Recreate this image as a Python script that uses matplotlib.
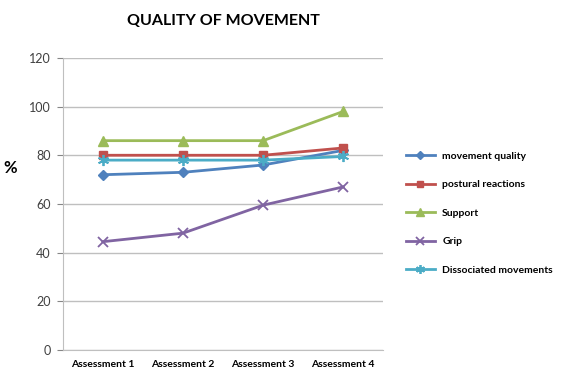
import matplotlib
matplotlib.use("Agg")
import matplotlib.pyplot as plt

categories = ["Assessment 1", "Assessment 2", "Assessment 3", "Assessment 4"]
movement_quality = [72, 73, 76, 82]
postural_reactions = [80, 80, 80, 83]
support = [86, 86, 86, 98]
grip = [44.5, 48, 59.5, 67]
dissociated = [78, 78, 78, 79.5]

series = [
    ("movement quality", movement_quality, "#4F81BD", "D", 5),
    ("postural reactions", postural_reactions, "#C0504D", "s", 6),
    ("Support", support, "#9BBB59", "^", 7),
    ("Grip", grip, "#8064A2", "x", 7),
    ("Dissociated movements", dissociated, "#4BACC6", (6, 2, 0), 8),
]

plt.rcParams['font.family'] = ['Lato', 'DejaVu Sans']

fig = plt.figure(figsize=(5.72, 3.74), dpi=100)
ax = fig.add_axes([0.110, 0.0642, 0.560, 0.781])

x = list(range(len(categories)))
handles = []
for name, vals, col, mk, ms in series:
    h, = ax.plot(x, vals, color=col, marker=mk, markersize=ms, linewidth=2,
                 markeredgewidth=1.3 if mk in ("x", (6, 2, 0)) else 1,
                 label=name)
    handles.append(h)

ax.set_xlim(-0.5, 3.5)
ax.set_ylim(0, 120)
ax.set_yticks(range(0, 121, 20))
ax.set_xticks(x)
ax.set_xticklabels(categories, fontsize=7.5, fontweight='bold')
ax.tick_params(axis='x', length=0, pad=7)
ax.tick_params(axis='y', length=4, color='#868686', labelsize=9, labelcolor='#404040', pad=5)
ax.grid(axis='y', color='#BFBFBF', linewidth=1)
ax.set_axisbelow(True)
for s in ['top', 'right']:
    ax.spines[s].set_visible(False)
ax.spines['left'].set_color('#BFBFBF')
ax.spines['bottom'].set_color('#BFBFBF')

fig.text(0.39, 0.945, "QUALITY OF MOVEMENT", ha='center', va='center',
         fontsize=11.5, fontweight='bold')
fig.text(0.018, 0.55, "%", ha='center', va='center', fontsize=12, fontweight='bold')

leg = fig.legend(handles=handles, loc='upper left', bbox_to_anchor=(0.693, 0.62),
                 frameon=False, prop={'size': 7.5, 'weight': 'bold'},
                 labelspacing=1.85, handlelength=2.8, handletextpad=0.7, markerscale=0.8)

fig.savefig("out.png", dpi=100)
